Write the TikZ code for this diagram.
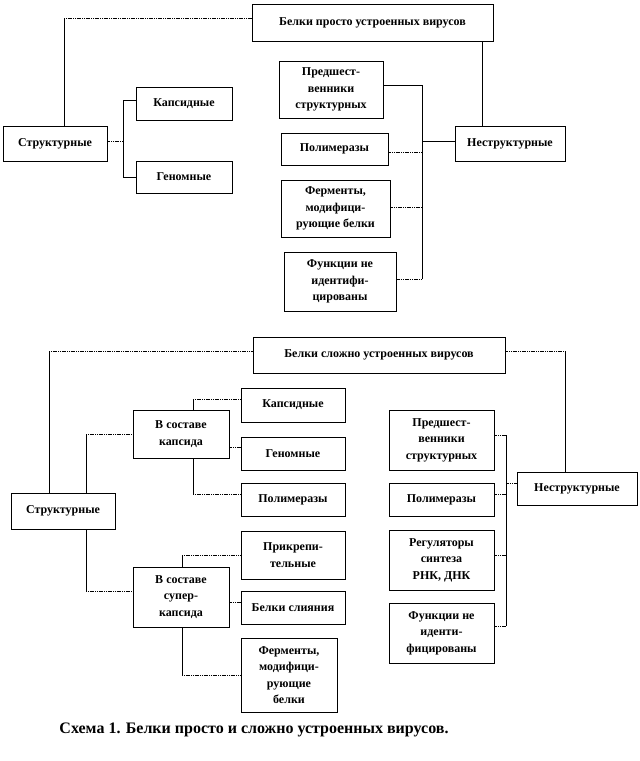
\documentclass[tikz,border=0pt]{standalone}
\usepackage{fontspec}
\setmainfont{Liberation Serif}
\newcommand\mybox[6]{\node[bx,minimum width=#4,minimum height=#5] (#1) at (#2,#3) {#6};}
\begin{document}
\begin{tikzpicture}[x=1pt,y=-1pt,
  bx/.style={draw=black, line width=0.8pt, fill=white, inner sep=1pt, align=center,
    font=\fontsize{12}{16.5}\selectfont\bfseries},
  ln/.style={line width=0.8pt},
  dl/.style={line width=1pt, dash pattern=on 1.2pt off 0.6pt},
  captext/.style={font=\fontsize{16}{19}\selectfont\bfseries}]
\useasboundingbox (0,0) rectangle (640,761);
% ---------- top scheme ----------
\mybox{T1}{372.5}{22.5}{241}{37}{Белки просто устроенных вирусов}
\mybox{S1}{55}{143.5}{104}{35}{Структурные}
\mybox{K1}{184}{103.5}{96}{33}{Капсидные}
\mybox{G1}{184}{177}{96}{32}{Геномные}
\mybox{P1}{331}{89.5}{104}{57}{Предшест-\\венники\\структурных}
\mybox{Pl1}{334.5}{149}{107}{32}{Полимеразы}
\mybox{F1}{335.5}{208.5}{109}{57}{Ферменты,\\модифици-\\рующие белки}
\mybox{U1}{340}{281.5}{112}{59}{Функции не\\идентифи-\\цированы}
\mybox{N1}{510}{143.5}{110}{35}{Неструктурные}
\coordinate (b1) at (123,0);
\coordinate (b2) at (422,0);
\coordinate (s1n) at ([xshift=9]S1.north);
\coordinate (t1w) at ([yshift=4.5]T1.west);
\coordinate (s1e) at ([yshift=2.5]S1.east);
\coordinate (k1w) at ([yshift=3.5]K1.west);
\coordinate (n1n) at ([xshift=-28]N1.north);
\coordinate (p1e) at ([yshift=4.5]P1.east);
\coordinate (u1e) at ([yshift=2.5]U1.east);
\coordinate (pl1e) at ([yshift=-3]Pl1.east);
\coordinate (f1e) at ([yshift=1.5]F1.east);
\coordinate (n1w) at ([yshift=2.5]N1.west);
% title -> structural
\draw[ln] (s1n) -- (s1n |- t1w);
\draw[dl] (s1n |- t1w) -- (t1w);
% structural -> capsid / genome
\draw[dl] (s1e) -- (s1e -| b1);
\draw[ln] (k1w) -| (G1.west -| b1) -- (G1.west);
% title -> nonstructural
\draw[ln] (n1n) -- (n1n |- T1.south);
% nonstructural bus
\draw[ln] (p1e) -| (u1e -| b2);
\draw[dl] (u1e -| b2) -- (u1e);
\draw[dl] (pl1e) -- (pl1e -| b2);
\draw[dl] (f1e) -- (f1e -| b2);
\draw[ln] (n1w) -- (n1w -| b2);
% ---------- bottom scheme ----------
\mybox{T2}{379}{355}{252}{36}{Белки сложно устроенных вирусов}
\mybox{S2}{63}{511}{104}{36}{Структурные}
\mybox{VK}{181}{434}{96}{48}{В составе\\капсида}
\mybox{K2}{293}{405}{104}{34}{Капсидные}
\mybox{G2}{293}{453.5}{104}{33}{Геномные}
\mybox{Pl2}{293}{499.5}{104}{33}{Полимеразы}
\mybox{VS}{181}{597}{96}{60}{В составе\\супер-\\капсида}
\mybox{Pr2}{293}{555}{104}{48}{Прикрепи-\\тельные}
\mybox{BS}{293}{607.5}{104}{33}{Белки слияния}
\mybox{F2}{289}{675}{96}{74}{Ферменты,\\модифици-\\рующие\\белки}
\mybox{P2}{441.5}{440}{105}{60}{Предшест-\\венники\\структурных}
\mybox{Pl3}{441.5}{499.5}{105}{33}{Полимеразы}
\mybox{R2}{441.5}{560}{105}{60}{Регуляторы\\синтеза\\РНК, ДНК}
\mybox{U2}{441.5}{633}{105}{60}{Функции не\\иденти-\\фицированы}
\mybox{N2}{577}{488.5}{120}{33}{Неструктурные}
\coordinate (b3) at (506,0);
\coordinate (s2na) at ([xshift=-14]S2.north);
\coordinate (t2w) at ([yshift=4]T2.west);
\coordinate (s2nb) at ([xshift=23]S2.north);
\coordinate (s2s) at ([xshift=23]S2.south);
\coordinate (vsw) at ([yshift=6]VS.west);
\coordinate (vkn) at ([xshift=12]VK.north);
\coordinate (k2w) at ([yshift=6]K2.west);
\coordinate (vke) at ([yshift=-13]VK.east);
\coordinate (vks) at ([xshift=12]VK.south);
\coordinate (pl2w) at ([yshift=5]Pl2.west);
\coordinate (vsn) at ([xshift=1]VS.north);
\coordinate (vse) at ([yshift=-5]VS.east);
\coordinate (vss) at ([xshift=1]VS.south);
\coordinate (t2e) at ([yshift=4]T2.east);
\coordinate (n2n) at ([xshift=-12]N2.north);
\coordinate (p2e) at ([yshift=5]P2.east);
\coordinate (pl3e) at ([yshift=5.5]Pl3.east);
\coordinate (r2e) at ([yshift=5]R2.east);
\coordinate (u2e) at ([yshift=7]U2.east);
\coordinate (n2w) at ([yshift=5.5]N2.west);
% title -> structural
\draw[ln] (s2na) -- (s2na |- t2w);
\draw[dl] (s2na |- t2w) -- (t2w);
% structural -> in capsid
\draw[ln] (s2nb) -- (s2nb |- VK.west);
\draw[dl] (s2nb |- VK.west) -- (VK.west);
% structural -> in supercapsid
\draw[ln] (s2s) -- (s2s |- vsw);
\draw[dl] (s2s |- vsw) -- (vsw);
% in capsid -> children
\draw[ln] (vkn) -- (vkn |- k2w);
\draw[dl] (vkn |- k2w) -- (k2w);
\draw[dl] (vke) -- (vke -| G2.west);
\draw[ln] (vks) -- (vks |- pl2w);
\draw[dl] (vks |- pl2w) -- (pl2w);
% in supercapsid -> children
\draw[ln] (vsn) -- (vsn |- Pr2.west);
\draw[dl] (vsn |- Pr2.west) -- (Pr2.west);
\draw[dl] (vse) -- (vse -| BS.west);
\draw[ln] (vss) -- (vss |- F2.west);
\draw[dl] (vss |- F2.west) -- (F2.west);
% title -> nonstructural
\draw[dl] (t2e) -- (t2e -| n2n);
\draw[ln] (t2e -| n2n) -- (n2n);
% nonstructural bus
\draw[ln] (p2e -| b3) -- (u2e -| b3);
\draw[dl] (p2e) -- (p2e -| b3);
\draw[dl] (pl3e) -- (pl3e -| b3);
\draw[dl] (r2e) -- (r2e -| b3);
\draw[dl] (u2e) -- (u2e -| b3);
\draw[dl] (n2w) -- (n2w -| b3);
% caption
\node[captext] (C) at (254,730) {Схема 1. Белки просто и сложно устроенных вирусов.};
\end{tikzpicture}
\end{document}
